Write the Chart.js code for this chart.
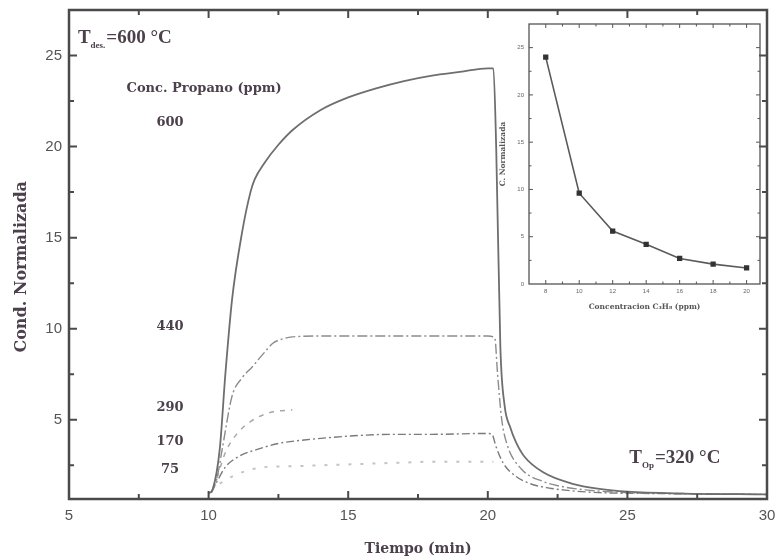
<!DOCTYPE html>
<html>
<head>
<meta charset="utf-8">
<script src="https://cdn.jsdelivr.net/npm/chart.js@4.4.1/dist/chart.umd.min.js"></script>
<style>
  html, body { margin: 0; padding: 0; background: #fff; }
  #wrap { position: relative; width: 776px; height: 558px; }
  #main { position: absolute; left: 0; top: 0; }
  #inset { position: absolute; left: 490px; top: 12px; }
</style>
</head>
<body>
<div id="wrap">
  <canvas id="main" width="776" height="558"></canvas>
  <canvas id="inset" width="280" height="310"></canvas>
</div>
<script>
// Response curves, normalized conductance vs. time, one pair of arrays per propane level
const t600 = [10.0, 10.15, 10.4, 10.6, 10.84, 11.2, 11.5, 11.65, 12.0, 12.5, 13, 14, 15, 16, 17, 18, 19, 20, 20.2, 20.3, 20.45, 20.6, 20.8, 21.0, 21.3, 22, 23, 24, 25, 27, 30];
const c600 = [0.95, 1.2, 3.4, 7.5, 11.6, 15.3, 17.5, 18.2, 19.1, 20.1, 20.9, 22.0, 22.7, 23.2, 23.6, 23.9, 24.1, 24.3, 24.3, 20.0, 9.0, 5.8, 4.6, 3.8, 3.0, 2.1, 1.5, 1.2, 1.05, 0.95, 0.9];

const t440 = [10.1, 10.3, 10.5, 10.84, 11.2, 11.56, 12.0, 12.3, 12.67, 13, 14, 15, 16, 17, 18, 19, 20, 20.25, 20.35, 20.5, 20.7, 21.2, 22, 22.6, 23.5, 25, 27, 30];
const c440 = [1.0, 1.8, 3.5, 6.3, 7.3, 7.9, 8.7, 9.2, 9.45, 9.55, 9.6, 9.6, 9.6, 9.6, 9.6, 9.6, 9.6, 9.5, 7.5, 5.0, 3.6, 2.3, 1.6, 1.35, 1.15, 1.0, 0.95, 0.9];

const t290 = [10.3, 10.6, 11.0, 11.5, 12.2, 13.0];
const c290 = [1.8, 3.2, 4.2, 4.9, 5.4, 5.55];

const t170 = [10.1, 10.3, 10.6, 11.1, 11.8, 12.5, 13.5, 15, 16.5, 18, 20, 20.15, 20.3, 20.56, 21.0, 21.5, 22.2, 23, 24, 26, 30];
const c170 = [1.0, 1.6, 2.4, 3.0, 3.4, 3.7, 3.9, 4.1, 4.2, 4.2, 4.25, 4.2, 3.5, 2.6, 1.9, 1.5, 1.25, 1.1, 1.0, 0.95, 0.9];

const t75 = [10.4, 11, 12, 13, 14, 15, 16, 17, 18, 19, 20.2];
const c75 = [1.5, 2.0, 2.4, 2.45, 2.5, 2.55, 2.6, 2.65, 2.7, 2.7, 2.7];

// Inset: response vs. concentration
const insetConc = [8, 10, 12, 14, 16, 18, 20];
const insetResp = [24.0, 9.6, 5.6, 4.2, 2.7, 2.1, 1.7];

// Level labels written inside the plot, at data coordinates
const levelLabels = ['600', '440', '290', '170', '75'];
const levelLabelY = [21.3, 10.1, 5.65, 3.8, 2.26];
const levelLabelX = 8.62;

const textColor = '#4b404b';
const axisColor = '#4a4a4a';
const serif = '"DejaVu Serif", serif';

function toPoints(t, c) {
  return t.map((x, i) => ({ x: x, y: c[i] }));
}

// Keep the plot box exactly where the layout puts it (no label overhang padding)
function fixPadding(scale) {
  scale.paddingLeft = 0;
  scale.paddingRight = 0;
  scale.paddingTop = 0;
  scale.paddingBottom = 0;
}

/**
 * Box frame with inward major/minor tick marks on all four sides
 */
const framePlugin = {
  id: 'frame',
  afterDraw(chart, args, opts) {
    const { ctx, chartArea: a, scales } = chart;
    ctx.save();
    ctx.strokeStyle = opts.color;
    ctx.lineWidth = opts.lineWidth;
    ctx.strokeRect(a.left, a.top, a.right - a.left, a.bottom - a.top);
    ctx.lineWidth = opts.tickWidth;

    const marks = (scale) => {
      const step = scale.options.ticks.stepSize;
      const half = step / 2;
      const out = [];
      let v = Math.ceil(scale.min / half) * half;
      for (; v <= scale.max + 1e-9; v += half) {
        const px = scale.getPixelForValue(v);
        const r = v / step;
        const major = Math.abs(r - Math.round(r)) < 1e-6;
        out.push({ px: px, len: major ? opts.major : opts.minor });
      }
      return out;
    };

    ctx.beginPath();
    marks(scales.x).forEach(m => {
      if (m.px < a.left + 2 || m.px > a.right - 2) return;
      ctx.moveTo(m.px, a.bottom);
      ctx.lineTo(m.px, a.bottom - m.len);
      ctx.moveTo(m.px, a.top);
      ctx.lineTo(m.px, a.top + m.len);
    });
    marks(scales.y).forEach(m => {
      if (m.px < a.top + 2 || m.px > a.bottom - 2) return;
      ctx.moveTo(a.left, m.px);
      ctx.lineTo(a.left + m.len, m.px);
      ctx.moveTo(a.right, m.px);
      ctx.lineTo(a.right - m.len, m.px);
    });
    ctx.stroke();
    ctx.restore();
  }
};

// Draws "T" followed by a small subscript and the rest of the string
function drawSubscripted(ctx, x, y, main, sub, rest) {
  ctx.font = 'bold 19px "Liberation Serif", serif';
  ctx.fillText(main, x, y);
  let w = ctx.measureText(main).width;
  ctx.font = 'bold 9px "Liberation Serif", serif';
  ctx.fillText(sub, x + w, y + 5);
  w += ctx.measureText(sub).width + 1;
  ctx.font = 'bold 19px "Liberation Serif", serif';
  ctx.fillText(rest, x + w, y);
}

const notesPlugin = {
  id: 'notes',
  afterDraw(chart) {
    const { ctx, scales: { x, y } } = chart;
    ctx.save();
    ctx.fillStyle = textColor;
    ctx.textBaseline = 'alphabetic';
    ctx.textAlign = 'left';
    drawSubscripted(ctx, x.getPixelForValue(5.32), y.getPixelForValue(25.7), 'T', 'des.', '=600 °C');
    drawSubscripted(ctx, x.getPixelForValue(25.07), y.getPixelForValue(2.6), 'T', 'Op', '=320 °C');

    ctx.textAlign = 'center';
    ctx.textBaseline = 'middle';
    ctx.font = 'bold 13px ' + serif;
    ctx.fillText('Conc. Propano (ppm)', x.getPixelForValue(9.84), y.getPixelForValue(23.2));
    levelLabels.forEach((txt, i) => {
      ctx.fillText(txt, x.getPixelForValue(levelLabelX), y.getPixelForValue(levelLabelY[i]));
    });

    // y-axis title, set a little below the middle of the axis
    ctx.translate(22, y.getPixelForValue(13.4));
    ctx.rotate(-Math.PI / 2);
    ctx.font = 'bold 16px ' + serif;
    ctx.fillText('Cond. Normalizada', 0, 0);
    ctx.restore();
  }
};

const mainChart = new Chart(document.getElementById('main'), {
  type: 'line',
  data: {
    datasets: [
      { label: '600', data: toPoints(t600, c600), borderColor: '#6e6e6e', borderWidth: 1.8 },
      { label: '440', data: toPoints(t440, c440), borderColor: '#8c8c8c', borderWidth: 1.4, borderDash: [10, 3, 2, 3] },
      { label: '290', data: toPoints(t290, c290), borderColor: '#a8a8a8', borderWidth: 1.5, borderDash: [5, 6] },
      { label: '170', data: toPoints(t170, c170), borderColor: '#7a7a7a', borderWidth: 1.4, borderDash: [8, 3, 2, 3] },
      { label: '75', data: toPoints(t75, c75), borderColor: '#c4c4c4', borderWidth: 2, borderDash: [3, 9] },
    ],
  },
  options: {
    responsive: false,
    animation: false,
    devicePixelRatio: 1,
    layout: { padding: { top: 10, right: 9, left: 0, bottom: 0 } },
    elements: {
      point: { radius: 0 },
      line: { cubicInterpolationMode: 'monotone', fill: false },
    },
    plugins: {
      legend: { display: false },
      tooltip: { enabled: false },
      frame: { color: axisColor, lineWidth: 2.5, tickWidth: 2, major: 8, minor: 5 },
    },
    scales: {
      x: {
        type: 'linear',
        min: 5,
        max: 30,
        grid: { display: false, drawTicks: false },
        border: { display: false },
        ticks: {
          stepSize: 5,
          includeBounds: false,
          padding: 8,
          color: '#555',
          font: { family: '"Liberation Sans", Arial, sans-serif', size: 15 },
        },
        title: {
          display: true,
          text: 'Tiempo (min)',
          color: textColor,
          font: { family: serif, size: 14, weight: 'bold' },
          padding: { top: 0, bottom: 0 },
        },
        afterFit(scale) { scale.height = 59; fixPadding(scale); },
      },
      y: {
        min: 0.65,
        max: 27.5,
        grid: { display: false, drawTicks: false },
        border: { display: false },
        ticks: {
          stepSize: 5,
          includeBounds: false,
          padding: 7,
          color: '#555',
          font: { family: '"Liberation Sans", Arial, sans-serif', size: 15 },
        },
        title: { display: false },
        afterFit(scale) { scale.width = 69; fixPadding(scale); },
      },
    },
  },
  plugins: [framePlugin, notesPlugin],
});

const insetChart = new Chart(document.getElementById('inset'), {
  type: 'line',
  data: {
    datasets: [{
      label: 'C. Normalizada',
      data: toPoints(insetConc, insetResp),
      borderColor: '#5a5a5a',
      borderWidth: 1.6,
      pointStyle: 'rect',
      pointRadius: 2.6,
      pointBackgroundColor: '#333',
      pointBorderColor: '#333',
      tension: 0,
    }],
  },
  options: {
    responsive: false,
    animation: false,
    devicePixelRatio: 1,
    layout: { padding: { top: 12, right: 10, left: 0, bottom: 0 } },
    plugins: {
      legend: { display: false },
      tooltip: { enabled: false },
      frame: { color: '#555', lineWidth: 1.3, tickWidth: 1, major: 4, minor: 2.5 },
    },
    scales: {
      x: {
        type: 'linear',
        min: 7,
        max: 20.8,
        grid: { display: false, drawTicks: false },
        border: { display: false },
        ticks: {
          stepSize: 2,
          includeBounds: false,
          padding: 4,
          color: '#666',
          font: { family: '"Liberation Sans", Arial, sans-serif', size: 6 },
        },
        title: {
          display: true,
          text: 'Concentracion C₃H₈ (ppm)',
          color: '#555',
          font: { family: serif, size: 7.5, weight: 'bold' },
          padding: { top: 0, bottom: 10 },
        },
        afterFit(scale) { scale.height = 38; fixPadding(scale); },
      },
      y: {
        min: 0,
        max: 27.5,
        grid: { display: false, drawTicks: false },
        border: { display: false },
        ticks: {
          stepSize: 5,
          includeBounds: false,
          padding: 5,
          color: '#666',
          font: { family: '"Liberation Sans", Arial, sans-serif', size: 6 },
        },
        title: {
          display: true,
          text: 'C. Normalizada',
          color: '#555',
          font: { family: serif, size: 7.5, weight: 'bold' },
          padding: { top: 9, bottom: 0 },
        },
        afterFit(scale) { scale.width = 39; fixPadding(scale); },
      },
    },
  },
  plugins: [framePlugin],
});
</script>
</body>
</html>
